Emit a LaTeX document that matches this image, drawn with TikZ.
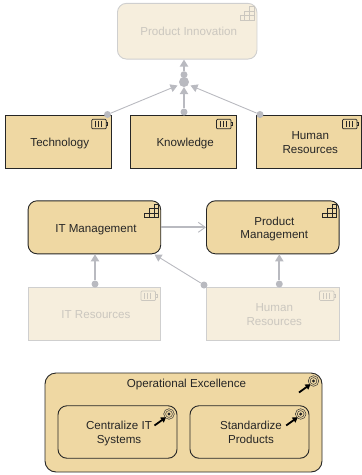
\documentclass[tikz,border=0pt]{standalone}
\usepackage{fontspec}
\setmainfont{Liberation Sans}
\usetikzlibrary{arrows.meta,calc}
\definecolor{boxfill}{HTML}{EFD8A3}
\definecolor{fadefill}{HTML}{F6EEDD}
\definecolor{fadeedge}{HTML}{CFCFCF}
\definecolor{fadetext}{HTML}{CBC7BF}
\definecolor{conncol}{HTML}{B9BAC0}
\definecolor{edgecol}{HTML}{262626}
\newcommand{\lbl}[1]{\raisebox{-2pt}[\height][\depth]{\def\arraystretch{1.03}\begin{tabular}{@{\hspace{3pt}}c@{}}#1\end{tabular}}}
\tikzset{
  basebox/.style={inner sep=0pt,align=center,font=\fontsize{11.6}{13.4}\selectfont,text=black!85},
  resbox/.style={basebox,draw=edgecol,line width=.9pt,fill=boxfill},
  capbox/.style={basebox,draw=edgecol,line width=.9pt,fill=boxfill,rounded corners=9pt},
  fresbox/.style={basebox,draw=fadeedge,line width=.9pt,fill=fadefill,text=fadetext},
  fcapbox/.style={basebox,draw=fadeedge,line width=.9pt,fill=fadefill,text=fadetext,rounded corners=9pt},
  smallbox/.style={minimum width=105.5pt,minimum height=53pt},
  bigbox/.style={minimum width=132.7pt,minimum height=53pt},
  dotnode/.style={circle,fill=conncol,inner sep=0pt,minimum size=7pt},
  junct/.style={circle,fill=conncol,inner sep=0pt,minimum size=10pt},
  thickconn/.style={draw=conncol,line width=2pt,-{Triangle[length=7pt,width=8pt]}},
  thinconn/.style={draw=conncol,line width=.9pt,-{Triangle[length=7pt,width=8pt]}},
  openconn/.style={draw=conncol,line width=1.7pt,-{Straight Barb[length=7pt,width=10pt,line width=.9pt]}},
}
% icons: anchored at their own top-left corner
\newcommand{\capicon}[3]{\begin{scope}[shift={(#1,#2)},draw=#3,line width=.55pt]
  \draw (9.4,0) rectangle (14,4.5);
  \draw (4.7,4.5) rectangle (9.4,9);
  \draw (9.4,4.5) rectangle (14,9);
  \draw (0,9) rectangle (4.7,13.5);
  \draw (4.7,9) rectangle (9.4,13.5);
  \draw (9.4,9) rectangle (14,13.5);
\end{scope}}
\newcommand{\resicon}[3]{\begin{scope}[shift={(#1,#2)},draw=#3,line width=.7pt]
  \draw[rounded corners=1pt] (0,0) rectangle (14.5,9.5);
  \draw (14.5,3) -- (16,3) -- (16,6.5) -- (14.5,6.5);
  \draw[line width=.8pt] (3.5,2) -- (3.5,7.5) (6.5,2) -- (6.5,7.5) (9.5,2) -- (9.5,7.5);
\end{scope}}
\newcommand{\goalicon}[2]{\begin{scope}[shift={(#1,#2)}]
  \draw[black!80,line width=.5pt] (0,0) circle (5.3pt) (0,0) circle (3.4pt);
  \fill[black!85] (0,0) circle (1.7pt);
  \draw[black,line width=1.8pt,-{Triangle[length=5pt,width=6pt]}] (-14.5,11.5) -- (-3,3.2);
\end{scope}}
\begin{document}
\begin{tikzpicture}[x=1pt,y=-1pt]
\useasboundingbox (0,0) rectangle (362,475);
% top group
\node[fcapbox,minimum width=139.5pt,minimum height=55.7pt] (pi) at (187.2,31.2) {\lbl{Product Innovation}};
\capicon{240}{6.7}{fadetext}
\node[resbox,smallbox] (tech) at (58.3,141.5) {\lbl{Technology}};
\resicon{91.7}{119.3}{edgecol}
\node[resbox,smallbox,minimum width=106pt] (know) at (183.7,141.5) {\lbl{Knowledge}};
\resicon{216.5}{119.3}{edgecol}
\node[resbox,smallbox] (hr) at (308.8,141.5) {\lbl{Human\\Resources}};
\resicon{342.5}{119.3}{edgecol}
% middle group
\node[capbox,bigbox] (itm) at (94.4,227.3) {\lbl{IT Management}};
\capicon{144.5}{204}{edgecol}
\node[capbox,bigbox] (pm) at (272.8,227.3) {\lbl{Product\\Management}};
\capicon{322.5}{204}{edgecol}
\node[fresbox,bigbox] (itr) at (94.4,313.5) {\lbl{IT Resources}};
\resicon{141}{291}{fadetext}
\node[fresbox,bigbox] (hr2) at (272.8,313.5) {\lbl{Human\\Resources}};
\resicon{319.5}{291}{fadetext}
% bottom group
\node[capbox,minimum width=277pt,minimum height=99pt,rounded corners=11pt] (opx) at (183.5,422.5) {};
\node[basebox] (opxl) at (186.5,384.3) {Operational Excellence};
\goalicon{313.5}{381}
\node[capbox,minimum width=119pt,minimum height=52.5pt] (cit) at (117.5,432) {\lbl{Centralize IT\\Systems}};
\goalicon{169}{414}
\node[capbox,minimum width=119pt,minimum height=52.5pt] (std) at (249.5,432) {\lbl{Standardize\\Products}};
\goalicon{300.7}{414}
% connectors
\node[junct] (j) at (184,82) {};
\node[dotnode] (ja) at (184,74.7) {};
\node[dotnode] (dk) at (184,112) {};
\node[dotnode] (dt) at (107.5,114.5) {};
\node[dotnode] (dh) at (260,114.5) {};
\node[dotnode] (di) at (95,284) {};
\node[dotnode] (dp) at (279.3,284) {};
\node[dotnode] (dq) at (204,285) {};
\coordinate (jw) at (177.5,85.5);
\coordinate (je) at (190.5,85.5);
\coordinate (js) at (184,87);
\coordinate (itc) at (154.5,254.5);
\draw[thickconn] (ja) -- (ja |- pi.south);
\draw[thickconn] (dk) -- (js);
\draw[thinconn] (dt) -- (jw);
\draw[thinconn] (dh) -- (je);
\draw[thickconn] (di) -- (di |- itm.south);
\draw[thickconn] (dp) -- (dp |- pm.south);
\draw[thinconn] (dq) -- (itc);
\draw[openconn] (itm.east) -- (pm.west);
\end{tikzpicture}
\end{document}
